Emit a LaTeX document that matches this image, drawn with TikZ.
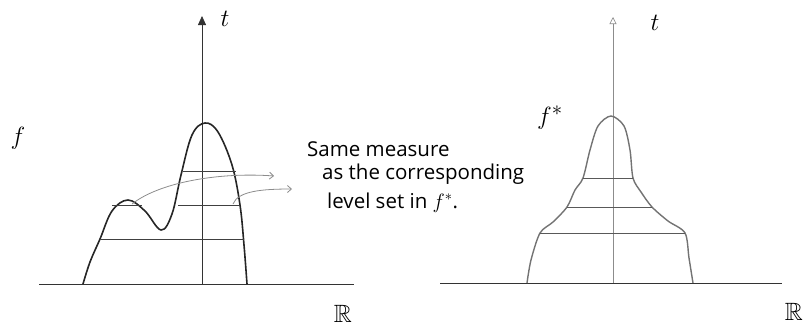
\documentclass[tikz,border=0pt]{standalone}
\usepackage{amssymb}
\usepackage{fontspec}
\newfontfamily\handfont{Open Sans}
\usepackage{tikz}
\usetikzlibrary{arrows.meta}

\begin{document}
\begin{tikzpicture}[
      x=1pt, y=-1pt,
      font=\fontsize{19}{22}\selectfont,
      big/.style={font=\fontsize{30}{30}\selectfont},
      mid/.style={font=\fontsize{25}{25}\selectfont},
      note/.style={font=\handfont\fontsize{20.5}{24}\selectfont, anchor=base west,
        inner sep=0pt},
      axis/.style={thick, draw=black!80},
      axisr/.style={semithick, draw=black!45},
      curve/.style={line width=1.6pt, draw=black!85, line join=round},
      curver/.style={line width=1.4pt, draw=black!55, line join=round},
      level/.style={line width=1pt, draw=black!75},
      levelr/.style={line width=1pt, draw=black!65},
      hint/.style={-{Straight Barb[length=4pt, width=7pt]}, draw=black!45, thick}
    ]
      \useasboundingbox (0,0) rectangle (804,327);
      % left: f
      \coordinate (o1) at (202,284);
      \coordinate (t1) at (202,16);
      \coordinate (b1l) at (39,284);
      \coordinate (b1r) at (354,284);
      \draw[axis] (b1l) -- (b1r);
      \draw[axis, -{Triangle[length=9pt, width=8pt]}] (o1) -- (t1);
      \node[mid] (tl) at (225,19) {$t$};
      \node[big] (fl) at (18,138) {$f$};
      \node[mid] (rl) at (343,314) {$\mathbb{R}$};
      \draw[curve] plot[smooth, tension=0.6] coordinates {(83,284) (90,262) (100,239)
        (112,211) (128,200) (145,211) (161,230) (172,214) (181,175) (192,135)
        (205,123) (218,132) (232,165) (240,205) (244,245) (247,284)};
      \draw[level] (100,239) -- (244,239);
      \draw[level] (112,205) -- (142,205);
      \draw[level] (178,205) -- (240,205);
      \draw[level] (183,171) -- (236,171);
      \coordinate (s1) at (132,204);
      \coordinate (s2) at (233,204);
      \coordinate (e1) at (274,176);
      \coordinate (e2) at (292,189);
      \draw[hint] (s1) .. controls (160,182) and (220,172) .. (e1);
      \draw[hint] (s2) .. controls (238,191) and (262,189) .. (e2);
      \node[note] (txt1) at (307,156) {Same measure};
      \node[note] (txt2) at (322,179) {as the corresponding};
      \node[note] (txt3) at (327,208) {level set in $f^{*}$.};
      % right: f*
      \coordinate (o2) at (613,283);
      \coordinate (t2) at (613,17);
      \coordinate (b2l) at (440,283);
      \coordinate (b2r) at (782,283);
      \draw[axis] (b2l) -- (b2r);
      \draw[axisr, -{Triangle[open, length=7pt, width=7pt]}] (o2) -- (t2);
      \node[mid] (tr) at (655,23) {$t$};
      \node[big] (fs) at (550,118) {$f^{*}$};
      \node[mid] (rr) at (794,312) {$\mathbb{R}$};
      \draw[curver] plot[smooth, tension=0.5] coordinates {(527,283) (531,260) (540,233)
        (553,222) (567,207) (575,190) (583,178) (590,150) (598,126) (611,116)
        (624,126) (630,150) (633,178) (641,192) (652,207) (668,221) (685,233)
        (689,258) (693,283)};
      \draw[levelr] (540,233) -- (685,233);
      \draw[levelr] (567,207) -- (652,207);
      \draw[levelr] (583,178) -- (633,178);
    \end{tikzpicture}
\end{document}
